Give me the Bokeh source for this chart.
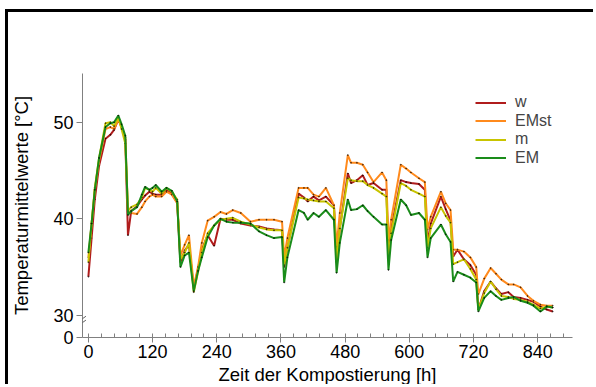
from bokeh.plotting import figure
from bokeh.models import Range1d, FixedTicker, SingleIntervalTicker, Arrow, Legend, LegendItem
from bokeh.embed import file_html
from bokeh.resources import INLINE

# composting time [h]
hours = [0, 6, 12, 20, 32, 41, 48, 56, 62, 69, 74, 80, 91, 100, 106, 114, 120, 126, 137, 146,
         156, 166, 172, 180, 188, 197, 205, 212, 223, 235, 247, 258, 270, 285, 303, 319, 333, 347,
         362, 366, 372, 393, 403, 410, 421, 431, 444, 459, 464, 470, 485, 491, 502, 513, 522, 533,
         549, 557, 561, 566, 584, 594, 603, 618, 629, 634, 640, 659, 668, 677, 682, 690, 702, 714,
         725, 729, 740, 752, 762, 772, 785, 795, 808, 821, 832, 845, 857, 868]

w = [34.0, 38.0, 42.0, 45.5, 48.3, 48.7, 49.2, 50.3, 49.5, 48.2, 38.3, 40.8, 41.3, 42.0, 42.4, 42.8,
     42.6, 42.5, 42.5, 43.0, 42.6, 41.7, 35.5, 36.7, 37.3, 32.8, 34.8, 36.8, 38.3, 37.2, 40.0, 39.9,
     39.9, 39.5, 39.3, 39.2, 39.0, 38.9, 38.8, 35.0, 37.0, 42.6, 42.2, 41.8, 42.3, 41.9, 42.3, 41.4,
     35.5, 39.0, 44.7, 43.7, 44.0, 44.5, 43.5, 43.7, 43.0, 43.0, 36.5, 39.0, 44.0, 43.8, 43.7, 43.6,
     43.0, 37.5, 39.5, 42.3, 41.0, 39.8, 36.1, 36.8, 35.8, 35.2, 34.2, 30.6, 32.5, 33.5, 32.8, 32.2,
     32.4, 31.9, 31.8, 31.6, 31.4, 30.9, 30.6, 30.4]

emst = [36.0, 39.5, 43.0, 46.0, 49.3, 49.5, 49.3, 50.3, 49.5, 48.4, 40.8, 40.6, 40.5, 41.2, 41.8,
        42.3, 42.5, 42.3, 42.3, 42.8, 42.5, 41.6, 36.2, 37.3, 38.3, 33.0, 35.0, 37.5, 39.8, 40.2,
        40.7, 40.5, 40.9, 40.6, 39.7, 39.9, 39.9, 39.9, 39.7, 36.0, 38.0, 43.2, 43.2, 43.2, 42.5,
        42.3, 43.2, 41.4, 37.1, 40.6, 46.6, 45.8, 45.8, 45.6, 44.8, 43.8, 44.8, 44.0, 37.8, 39.9,
        45.6, 45.2, 44.8, 44.2, 43.8, 38.9, 40.2, 42.8, 41.6, 40.9, 36.8, 36.8, 36.6, 36.0, 35.0,
        32.2, 33.8, 34.9, 34.3, 33.7, 33.2, 33.2, 32.9, 32.0, 31.5, 31.1, 31.0, 31.0]

m = [35.5, 39.5, 43.2, 46.3, 49.9, 50.0, 49.6, 50.5, 49.3, 47.8, 40.8, 41.2, 41.5, 42.2, 43.2, 43.0,
     42.8, 43.2, 42.6, 43.2, 42.8, 42.0, 35.8, 36.5, 37.5, 32.4, 34.5, 36.5, 38.5, 39.3, 39.9, 40.0,
     40.1, 39.7, 39.4, 39.1, 38.9, 38.8, 38.8, 35.2, 37.0, 42.2, 42.1, 42.0, 41.9, 41.8, 41.8, 41.1,
     35.5, 39.0, 44.2, 44.0, 43.9, 43.9, 43.5, 43.2, 42.6, 42.3, 36.0, 38.5, 43.7, 43.4, 43.0, 42.6,
     42.3, 37.0, 39.0, 41.2, 40.3, 39.6, 35.3, 35.5, 35.8, 34.8, 33.7, 30.6, 32.3, 33.5, 32.7, 32.0,
     31.9, 31.7, 31.6, 31.4, 31.1, 30.7, 30.9, 30.8]

em = [36.5, 39.5, 43.0, 46.3, 49.5, 49.9, 50.0, 50.7, 49.8, 48.6, 40.4, 40.8, 41.2, 42.5, 43.3, 43.0,
      43.2, 43.5, 42.8, 43.2, 42.9, 41.8, 35.0, 36.2, 36.5, 32.5, 34.6, 36.0, 38.1, 39.3, 40.0, 39.7,
      39.6, 39.6, 39.5, 38.7, 38.3, 38.0, 38.1, 33.4, 36.0, 40.9, 40.6, 39.9, 40.6, 40.2, 40.9, 39.9,
      34.4, 37.5, 42.0, 40.9, 41.0, 41.4, 40.8, 40.2, 39.4, 39.4, 34.7, 37.8, 42.0, 41.4, 40.4, 40.6,
      39.9, 36.0, 38.0, 39.4, 38.4, 37.6, 33.5, 34.5, 34.2, 33.9, 33.4, 30.4, 31.8, 32.5, 32.0, 31.6,
      31.8, 31.9, 31.5, 31.3, 31.0, 30.4, 30.9, 30.8]

series_names = ["w", "EMst", "m", "EM"]
series_values = [w, emst, m, em]
series_colors = ["#b01c1c", "#ff8a1c", "#c8c400", "#1a8c1a"]

x_ticks_major = 120
y_ticks = [30, 40, 50]
y_zero_pos = 27.7      # position where the axis value 0 is drawn (broken axis)
y_top = 55.05
x_start, x_end = -11, 905

FONT = "Liberation Sans"

p = figure(width=588, height=375, output_backend="svg", toolbar_location=None,
           x_range=Range1d(x_start, x_end), y_range=Range1d(y_zero_pos, y_top),
           min_border_left=74, min_border_right=24, min_border_top=61, min_border_bottom=49,
           background_fill_color="white", border_fill_color="white")
p.margin = (9, 0, 0, 5)
p.styles = {"border-top": "3px solid black", "border-left": "3px solid black"}
p.outline_line_color = None
p.grid.visible = False

# legend layout (screen px, relative to plot frame bottom-left)
LEG_X = 393
LEG_TOP_ROW = 226
LEG_ROW_STEP = 18.5

for i, (name, vals, col) in enumerate(zip(series_names, series_values, series_colors)):
    r1 = p.line(hours, vals, line_color=col, line_width=2)
    p.scatter(hours, vals, size=1, color="black", alpha=0.5)
    leg = Legend(items=[LegendItem(label=name, renderers=[r1])],
                 location=(LEG_X, LEG_TOP_ROW - i * LEG_ROW_STEP),
                 padding=0, margin=0, spacing=0,
                 glyph_width=31, glyph_height=17, label_height=17, label_standoff=9,
                 border_line_color=None, background_fill_alpha=0,
                 label_text_font=FONT, label_text_font_size="16px")
    p.add_layout(leg, "center")

# x axis
xa = p.xaxis[0]
xa.ticker = SingleIntervalTicker(interval=x_ticks_major, num_minor_ticks=5)
xa.axis_label = "Zeit der Kompostierung [h]"
for ax in [xa, p.yaxis[0]]:
    ax.axis_line_color = "#808080"
    ax.major_tick_line_color = "#808080"
    ax.minor_tick_line_color = "#808080"
    ax.major_label_text_font = FONT
    ax.major_label_text_font_size = "18px"
    ax.major_label_text_color = "black"
    ax.axis_label_text_font = FONT
    ax.axis_label_text_font_size = "18.5px"
    ax.axis_label_text_font_style = "normal"
    ax.axis_label_text_color = "black"
xa.major_tick_out = 5
xa.major_tick_in = 0
xa.minor_tick_in = 4
xa.minor_tick_out = 0
xa.major_label_standoff = 2
xa.axis_label_standoff = 3

ya = p.yaxis[0]
ya.ticker = FixedTicker(ticks=[y_zero_pos] + y_ticks)
ya.major_label_overrides = {y_zero_pos: "0"}
ya.axis_label = "Temperaturmittelwerte [°C]"
ya.major_tick_out = 6
ya.major_tick_in = 0
ya.minor_tick_out = 0
ya.minor_tick_in = 0
ya.major_label_standoff = 3
ya.axis_label_standoff = 18

# axis break marks "//"
dx = (x_end - x_start) * 0.007
for base in (29.0, 29.4):
    p.add_layout(Arrow(end=None, x_start=x_start - dx, y_start=base,
                       x_end=x_start + dx, y_end=base + 0.5,
                       line_color="#606060", line_width=1))

open("out.html", "w").write(file_html(p, INLINE))
